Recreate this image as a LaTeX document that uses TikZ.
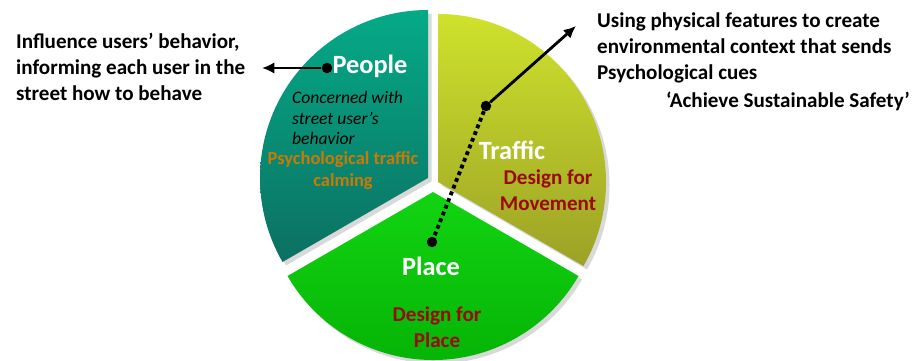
\documentclass[tikz,border=0pt]{standalone}
\usepackage{fontspec}
\setmainfont{Carlito}
\usetikzlibrary{arrows.meta,shadows}

\definecolor{peopletop}{HTML}{05AA87}
\definecolor{peoplebot}{HTML}{0C7062}
\definecolor{traffictop}{HTML}{CFE22C}
\definecolor{trafficbot}{HTML}{9CA226}
\definecolor{placetop}{HTML}{12D412}
\definecolor{placebot}{HTML}{04B004}
\definecolor{designred}{HTML}{9A0A0A}
\definecolor{calmorange}{HTML}{C97A06}

\tikzset{
  wedge/.style={drop shadow={shadow xshift=2pt,shadow yshift=-2pt,opacity=0.3}},
  bigname/.style={text=white,font=\fontsize{15}{18}\selectfont\bfseries},
  note/.style={font=\fontsize{12}{15}\selectfont\bfseries,align=left},
  design/.style={text=designred,font=\fontsize{12}{15}\selectfont\bfseries,align=center},
  dot/.style={circle,fill=black,inner sep=0pt,minimum size=0.21cm},
  pointer/.style={line width=1.6pt,-{Latex[length=7pt,width=6.5pt]}}
}

\begin{document}
\begin{tikzpicture}[x=0.02cm,y=0.02cm]
  \useasboundingbox (0,0) rectangle (917,361);

  % the three wedges
  \shade[wedge,top color=peopletop,bottom color=peoplebot]
    (428,183) -- ++(90:168) arc[start angle=90,end angle=210,radius=168] -- cycle;
  \shade[wedge,top color=traffictop,bottom color=trafficbot]
    (438,179) -- ++(90:168) arc[start angle=90,end angle=-30,radius=168] -- cycle;
  \shade[wedge,top color=placetop,bottom color=placebot]
    (433,169) -- ++(210:168) arc[start angle=210,end angle=330,radius=168] -- cycle;

  % people
  \node[bigname] (people) at (370,295) {People};
  \node[font=\fontsize{10}{11.6}\selectfont\itshape,align=left,anchor=west] (concern) at (286,243)
    {Concerned with\\street user's\\behavior};
  \node[text=calmorange,font=\fontsize{10.5}{12.5}\selectfont\bfseries,align=center] (calming) at (343,190)
    {Psychological traffic\\calming};

  % traffic
  \node[bigname] (traffic) at (512,211) {Traffic};
  \node[design] (movement) at (548,171) {Design for\\Movement};

  % place
  \node[bigname] (place) at (431,95) {Place};
  \node[design] (designplace) at (437,34) {Design for\\Place};

  % side notes
  \node[note,anchor=west] (influence) at (10,294)
    {Influence users’ behavior,\\informing each user in the\\street how to behave};
  \node[note,anchor=west] (using) at (591,313)
    {Using physical features to create\\environmental context that sends\\Psychological cues};
  \node[note,anchor=east] (safety) at (916,260) {‘Achieve Sustainable Safety’};

  % pointers
  \node[dot] (pdot) at (327,293) {};
  \coordinate (ptip) at (262,293);
  \node[dot] (tdot) at (486,255) {};
  \coordinate (ttip) at (576,335);
  \node[dot] (ldot) at (432,119) {};

  \draw[pointer] (pdot) -- (ptip);
  \draw[pointer] (tdot) -- (ttip);
  \draw[line width=2.2pt,dash pattern=on 2.2pt off 1.9pt] (tdot) -- (ldot);
\end{tikzpicture}
\end{document}
